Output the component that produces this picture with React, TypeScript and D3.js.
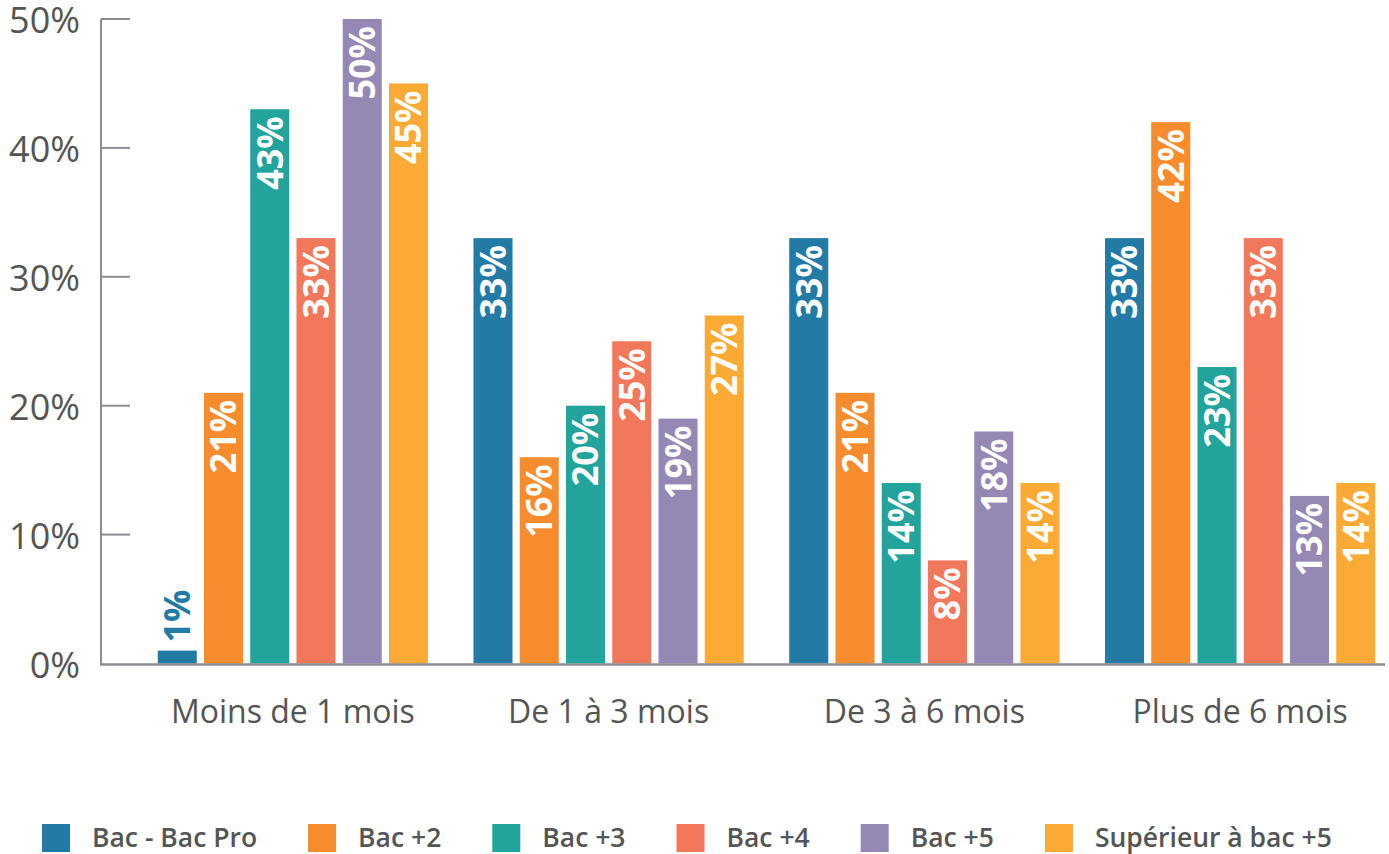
import React, { useEffect, useRef } from "react";
import * as d3 from "d3";

const categories = ["Moins de 1 mois", "De 1 à 3 mois", "De 3 à 6 mois", "Plus de 6 mois"];
const seriesNames = ["Bac - Bac Pro", "Bac +2", "Bac +3", "Bac +4", "Bac +5", "Supérieur à bac +5"];
const seriesColors = ["#237ba5", "#f68c2d", "#22a39b", "#f2785c", "#9688b4", "#fcaa36"];

// values per series, in category order
const bacPro = [1, 33, 33, 33];
const bac2 = [21, 16, 21, 42];
const bac3 = [43, 20, 14, 23];
const bac4 = [33, 25, 8, 33];
const bac5 = [50, 19, 18, 13];
const supBac5 = [45, 27, 14, 14];
const seriesValues = [bacPro, bac2, bac3, bac4, bac5, supBac5];

const yTicks = [0, 10, 20, 30, 40, 50];

const FONT = "'Open Sans', 'Noto Sans', sans-serif";

const App: React.FC = () => {
  const svgRef = useRef<SVGSVGElement>(null);

  useEffect(() => {
    if (!svgRef.current) return;
    const svg = d3.select(svgRef.current);
    svg.selectAll("*").remove();

    const width = 1389;
    const height = 854;
    const axisX = 101;
    const axisColor = "#8d8c92";

    const x0 = d3
      .scaleBand<string>()
      .domain(categories)
      .range([135, 1398])
      .paddingInner(0.144)
      .paddingOuter(0.072);

    const x1 = d3
      .scaleBand<string>()
      .domain(seriesNames)
      .range([0, x0.bandwidth()])
      .paddingInner(0.156)
      .paddingOuter(0);

    const y = d3.scaleLinear().domain([0, 50]).range([663.5, 19]);

    // bars
    const groups = svg
      .append("g")
      .selectAll("g")
      .data(categories)
      .join("g")
      .attr("transform", (c) => `translate(${x0(c)},0)`);

    groups.each(function (cat, ci) {
      const g = d3.select(this);
      seriesNames.forEach((s, si) => {
        const v = seriesValues[si][ci];
        const bx = x1(s) as number;
        g.append("rect")
          .attr("x", bx)
          .attr("y", y(v))
          .attr("width", x1.bandwidth())
          .attr("height", y(0) - y(v))
          .attr("fill", seriesColors[si]);

        // short bars get their label above, in the bar colour
        const inside = y(0) - y(v) > 90;
        const cx = bx + x1.bandwidth() / 2;
        const ty = inside ? y(v) + 7 : y(v) - 8;
        g.append("text")
          .attr("transform", `translate(${cx},${ty}) rotate(-90)`)
          .attr("text-anchor", inside ? "end" : "start")
          .attr("dy", "0.36em")
          .attr("font-family", FONT)
          .attr("font-weight", 700)
          .attr("font-size", 36)
          .attr("fill", inside ? "#ffffff" : seriesColors[si])
          .text(`${v}%`);
      });
    });

    // y axis
    const yAxis = svg.append("g");
    yAxis
      .append("line")
      .attr("x1", axisX)
      .attr("x2", axisX)
      .attr("y1", y(50))
      .attr("y2", y(0) + 1)
      .attr("stroke", axisColor)
      .attr("stroke-width", 2);
    yAxis
      .selectAll("line.tick")
      .data(yTicks.filter((t) => t > 0))
      .join("line")
      .attr("class", "tick")
      .attr("x1", axisX)
      .attr("x2", 130)
      .attr("y1", (d) => y(d))
      .attr("y2", (d) => y(d))
      .attr("stroke", axisColor)
      .attr("stroke-width", 2);
    yAxis
      .selectAll("text")
      .data(yTicks)
      .join("text")
      .attr("x", 80)
      .attr("y", (d) => y(d))
      .attr("dy", "0.39em")
      .attr("text-anchor", "end")
      .attr("font-family", FONT)
      .attr("font-size", 36)
      .attr("fill", "#555555")
      .text((d) => `${d}%`);

    // baseline
    svg
      .append("line")
      .attr("x1", axisX - 1)
      .attr("x2", 1385)
      .attr("y1", y(0) + 1)
      .attr("y2", y(0) + 1)
      .attr("stroke", axisColor)
      .attr("stroke-width", 2.5);

    // category labels
    svg
      .append("g")
      .selectAll("text")
      .data(categories)
      .join("text")
      .attr("x", (c) => (x0(c) as number) + x0.bandwidth() / 2)
      .attr("y", 723)
      .attr("text-anchor", "middle")
      .attr("font-family", FONT)
      .attr("font-size", 32)
      .attr("fill", "#555555")
      .text((c) => c);

    // legend
    const legend = svg.append("g");
    let lx = 42;
    seriesNames.forEach((s, i) => {
      legend
        .append("rect")
        .attr("x", lx)
        .attr("y", 824)
        .attr("width", 28)
        .attr("height", 28)
        .attr("fill", seriesColors[i]);
      const t = legend
        .append("text")
        .attr("x", lx + 50)
        .attr("y", 847)
        .attr("font-family", FONT)
        .attr("font-weight", 600)
        .attr("font-size", 26.5)
        .attr("fill", "#555555")
        .text(s);
      const tw = (t.node() as SVGTextElement).getComputedTextLength();
      lx += 50 + tw + 51;
    });

    svg.attr("width", width).attr("height", height);
  }, []);

  return (
    <div>
      <style>{`body{margin:0;background:#fff}`}</style>
      <svg ref={svgRef} width={1389} height={854} style={{ display: "block" }} />
    </div>
  );
};

export default App;
